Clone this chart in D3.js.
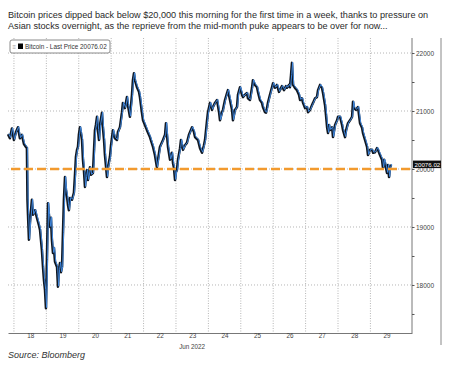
<!DOCTYPE html>
<html>
<head>
<meta charset="utf-8">
<script src="https://cdn.jsdelivr.net/npm/d3@7"></script>
<style>
body {margin: 0; background: #fff;}
svg text {font-family: "Liberation Sans", Arial, sans-serif;}
</style>
</head>
<body>
<div id="chart"></div>
<script>

// hours since 17 Jun 2022 00:00
var hours = [19.6,21.0,22.5,24.0,25.5,27.0,28.4,29.9,31.4,32.9,33.6,34.0,34.4,35.1,35.9,37.3,38.1,39.6,41.0,42.5,
  43.3,44.7,45.5,46.2,47.0,47.7,48.4,49.2,49.9,50.7,51.4,52.1,52.9,53.6,54.4,55.9,56.6,57.3,58.1,58.8,
  59.6,60.3,61.0,61.8,62.5,63.3,64.0,64.7,65.5,67.0,68.4,69.2,69.9,70.7,71.4,72.1,72.9,73.6,74.4,75.1,
  75.9,76.6,77.3,78.1,78.8,80.3,81.0,82.5,83.3,84.0,84.7,85.5,86.2,87.0,87.7,89.2,89.9,90.7,91.4,92.9,
  93.6,95.1,95.9,97.3,98.8,100.3,101.0,102.5,104.0,104.7,106.2,107.7,108.4,109.9,111.4,112.1,112.9,113.6,115.1,116.6,
  117.3,118.8,119.6,121.0,122.5,124.7,127.0,128.4,129.9,130.7,132.1,134.4,135.9,136.6,137.3,138.1,139.6,141.0,141.8,142.5,
  143.3,144.0,144.7,145.5,147.0,147.7,149.2,150.7,152.1,153.6,155.9,157.3,158.1,160.3,161.8,163.3,164.7,165.5,167.0,167.7,
  169.2,170.7,171.4,172.9,174.4,175.9,176.6,178.1,178.8,180.3,181.8,182.5,184.0,185.5,186.2,187.7,189.2,189.9,191.4,192.9,
  193.6,195.1,196.6,197.3,198.8,200.3,201.0,202.5,204.0,204.7,206.2,207.7,208.4,209.9,210.7,211.4,212.1,213.6,215.1,215.9,
  217.3,218.8,220.3,221.0,222.5,224.0,225.5,226.2,227.7,228.4,229.2,229.9,230.7,232.1,233.6,235.1,235.9,237.3,238.1,239.6,
  241.0,241.8,243.3,244.7,245.5,247.0,248.4,249.2,250.7,252.1,252.9,254.4,255.1,255.9,256.6,257.3,258.1,259.6,260.3,261.8,
  263.3,264.0,265.5,267.0,267.7,269.2,270.0,271.4,272.9,274.4,275.1,275.9,277.3,278.8,280.3,281.8,282.5,284.0,285.5,286.2,
  287.7,289.2,290.0,291.4,292.9,293.6,295.1,296.6,297.3,298.1,298.8,300.3,301.0,301.8,302.5,303.3];

var prices = [20600,20530,20700,20500,20640,20720,20530,20590,20430,20380,20360,19470,19210,18780,19090,19470,19210,19290,19160,19030,
  18950,18600,18310,18090,17910,17600,18430,19410,19210,19000,19160,18780,18550,18640,18400,18310,17970,18260,18380,18220,
  18310,18900,19470,19860,19640,19520,19380,19290,19500,19470,19590,19900,20210,20330,20380,20590,20720,20620,20500,20160,
  19950,19690,19860,19980,19810,20030,19900,19930,20330,20670,20760,20900,20670,20500,20760,20970,20710,20500,20240,19860,
  20020,20210,20410,20670,20530,20500,20640,20720,20980,21140,21050,21240,21100,20900,21280,21530,21650,21530,21410,21330,
  21240,20970,20840,20760,20670,20550,20380,20240,20030,20160,20380,20500,20590,20790,20590,20380,20160,20280,20100,20020,
  19810,19950,19980,20160,20360,20500,20330,20410,20450,20590,20720,20640,20550,20500,20360,20280,20410,20500,20840,20980,
  21140,21020,21070,21140,21190,20980,20840,20980,21020,21190,21310,21360,21190,21020,20840,21020,21070,21280,21410,21280,
  21240,21280,21310,21220,21190,21400,21530,21450,21410,21330,21190,21140,21070,20980,20970,21050,21140,21280,21410,21480,
  21400,21450,21330,21360,21430,21360,21430,21400,21450,21410,21620,21830,21450,21400,21360,21280,21190,21220,21140,21050,
  21070,20980,21020,21100,21140,21220,21240,21360,21450,21400,21310,21100,20930,20720,20620,20760,20670,20720,20550,20760,
  20840,20900,20900,20760,20670,20550,20670,20790,20840,20900,21160,21050,21020,21070,20790,20710,20620,20500,20380,20240,
  20330,20330,20280,20290,20360,20330,20240,20160,20020,20160,20100,19930,20070,19860,20020,20076];

var days = [18,19,20,21,22,23,24,25,26,27,28,29];
var yLabels = [18000,19000,20000,21000,22000];
var yMinor = [17500,18500,19500,20500,21500];
var lastPrice = 20076.02;
var refLevel = 20000;

var titleLines = [
  "Bitcoin prices dipped back below $20,000 this morning for the first time in a week, thanks to pressure on",
  "Asian stocks overnight, as the reprieve from the mid-month puke appears to be over for now..."
];

var t0 = Date.UTC(2022, 5, 17);
function toDate(h) { return new Date(t0 + h * 3600e3); }
function dayStart(d) { return new Date(Date.UTC(2022, 5, d)); }
function dayNoon(d) { return new Date(Date.UTC(2022, 5, d, 12)); }

var data = hours.map(function (h, i) { return {t: toDate(h), v: prices[i]}; });

var svg = d3.select("#chart").append("svg")
    .attr("width", 450)
    .attr("height", 370);

var x = d3.scaleUtc().domain([toDate(19.6), toDate(318.8)]).range([8, 412]);
var y = d3.scaleLinear().domain([17172, 22259]).range([333, 38]);

// title
var title = svg.append("g");
title.selectAll("text").data(titleLines).enter().append("text")
    .attr("x", 8)
    .attr("y", function (d, i) { return 17.5 + i * 11.5; })
    .attr("font-size", 10)
    .attr("fill", "#2a2a2a")
    .text(function (d) { return d; });
// scale the font so line one spans the same width as in the reference
var w0 = title.select("text").node().getComputedTextLength();
title.selectAll("text").attr("font-size", 10 * 421 / w0);

// grid
svg.append("g").selectAll("line").data(days).enter().append("line")
    .attr("x1", function (d) { return x(dayStart(d)); })
    .attr("x2", function (d) { return x(dayStart(d)); })
    .attr("y1", 38).attr("y2", 333)
    .attr("stroke", "#b5b5b5")
    .attr("stroke-dasharray", "1,1.5");

svg.append("g").selectAll("line").data(yLabels).enter().append("line")
    .attr("x1", 8).attr("x2", 412)
    .attr("y1", function (d) { return y(d); })
    .attr("y2", function (d) { return y(d); })
    .attr("stroke", "#b5b5b5")
    .attr("stroke-dasharray", "1,2");

// bottom axis
var xAxis = svg.append("g")
    .attr("transform", "translate(0,333)")
    .call(d3.axisBottom(x).tickValues(days.map(dayNoon)).tickSize(0)
        .tickFormat(function (d) { return d.getUTCDate(); }));
xAxis.select(".domain").attr("stroke", "#777");
xAxis.selectAll("text").attr("font-size", 6.3).attr("fill", "#444").attr("y", 1).attr("dy", "0.71em")
    .attr("font-family", "'DejaVu Sans', sans-serif");
svg.append("text")
    .attr("x", x(dayNoon(23))).attr("y", 348.5)
    .attr("text-anchor", "middle")
    .attr("font-size", 6.3).attr("fill", "#444")
    .attr("font-family", "'DejaVu Sans', sans-serif")
    .text("Jun 2022");

// right axis
var yAxis = svg.append("g")
    .attr("transform", "translate(412,0)")
    .call(d3.axisRight(y).tickValues(yLabels.concat(yMinor)).tickSize(2.5)
        .tickFormat(function (d) { return d % 1000 === 0 ? d : ""; }));
yAxis.select(".domain").attr("d", "M0,38V333").attr("stroke", "#777");
yAxis.selectAll(".tick line").attr("stroke", "#555");
yAxis.selectAll("text").attr("font-size", 6.5).attr("fill", "#444").attr("x", 4)
    .attr("font-family", "'DejaVu Sans', sans-serif");

// outer frame edge
svg.append("line")
    .attr("x1", 441).attr("x2", 441).attr("y1", 38).attr("y2", 345)
    .attr("stroke", "#888");

// price line
var line = d3.line()
    .x(function (d) { return x(d.t); })
    .y(function (d) { return y(d.v); });

svg.append("path").datum(data)
    .attr("d", line)
    .attr("fill", "none")
    .attr("stroke", "#111822")
    .attr("stroke-width", 2.5)
    .attr("stroke-linejoin", "round");
svg.append("path").datum(data)
    .attr("d", line)
    .attr("transform", "translate(0.7,-0.6)")
    .attr("fill", "none")
    .attr("stroke", "#3f86dc")
    .attr("stroke-width", 1)
    .attr("stroke-linejoin", "round");

// dashed reference line
svg.append("line")
    .attr("x1", 11).attr("x2", 412)
    .attr("y1", y(refLevel)).attr("y2", y(refLevel))
    .attr("stroke", "#f29a2e")
    .attr("stroke-width", 2.6)
    .attr("stroke-dasharray", "9,4");

// last price tag (sits over the 20000 label, as in the reference)
var tag = svg.append("g").attr("transform", "translate(413," + y(lastPrice) + ")");
tag.append("rect")
    .attr("x", 0).attr("y", -4).attr("width", 28).attr("height", 7.5)
    .attr("fill", "#111");
tag.append("text")
    .attr("x", 1.5).attr("y", 2.3)
    .attr("font-size", 6.2)
    .attr("fill", "#fff")
    .attr("font-family", "'DejaVu Sans', sans-serif")
    .text(d3.format(".2f")(lastPrice));

// legend
var legend = svg.append("g");
legend.append("rect")
    .attr("x", 10).attr("y", 40).attr("width", 100).attr("height", 13)
    .attr("rx", 2)
    .attr("fill", "#fff")
    .attr("stroke", "#8a8a8a");
legend.append("text")
    .attr("x", 12.5).attr("y", 49)
    .attr("font-size", 6)
    .attr("fill", "#999")
    .text("≡");
legend.append("rect")
    .attr("x", 18).attr("y", 43.5).attr("width", 5).attr("height", 5.5)
    .attr("fill", "#000");
legend.append("text")
    .attr("x", 25).attr("y", 49.2)
    .attr("font-size", 6.4)
    .attr("fill", "#333")
    .attr("font-family", "'DejaVu Sans', sans-serif")
    .text("Bitcoin - Last Price " + d3.format(".2f")(lastPrice));

// source
svg.append("text")
    .attr("x", 8).attr("y", 358)
    .attr("font-size", 9)
    .attr("font-style", "italic")
    .attr("fill", "#333")
    .text("Source: Bloomberg");

</script>
</body>
</html>
